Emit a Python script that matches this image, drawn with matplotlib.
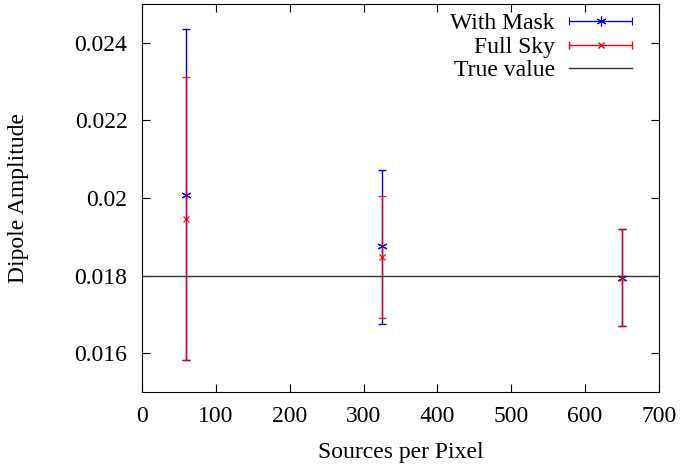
import matplotlib
matplotlib.use("Agg")
import matplotlib.pyplot as plt
from matplotlib.lines import Line2D
from matplotlib.legend_handler import HandlerErrorbar

plt.rcParams['font.family'] = ['Liberation Serif', 'DejaVu Serif']

# data
sources = [60, 325, 650]
mask_amp = [0.02008, 0.01875, 0.01795]
mask_lo = [0.01582, 0.01674, 0.01669]
mask_hi = [0.02436, 0.02071, 0.01919]
full_amp = [0.01946, 0.01847, 0.01795]
full_lo = [0.01582, 0.01690, 0.01669]
full_hi = [0.02312, 0.02004, 0.01919]
true_value = 0.018

fig = plt.figure(figsize=(6.82, 4.65), dpi=100)
ax = fig.add_axes([0.2082, 0.157, 0.758, 0.8344])

mask_err = [[a - l for a, l in zip(mask_amp, mask_lo)],
            [h - a for a, h in zip(mask_amp, mask_hi)]]
full_err = [[a - l for a, l in zip(full_amp, full_lo)],
            [h - a for a, h in zip(full_amp, full_hi)]]

ax.errorbar(sources, mask_amp, yerr=mask_err, fmt='none', ecolor='#0000ff',
            elinewidth=1, capsize=3, capthick=1)
ax.plot(sources, mask_amp, ls='none', marker=(6, 2, 0), ms=7, mew=0.8,
        color='#0000ff')
ax.errorbar(sources, full_amp, yerr=full_err, fmt='none', ecolor='#ff0000',
            elinewidth=1, capsize=3, capthick=1, alpha=0.85)
ax.plot(sources, full_amp, ls='none', marker='x', ms=5, mew=1,
        color='#ff0000', alpha=0.85)
ax.axhline(true_value, color='#333333', lw=1)

# legend handles drawn like gnuplot's (dummy points off the axes)
h1 = ax.errorbar([-1000], [0], xerr=[1], fmt='', ls='none', marker=(6, 2, 0),
                 color='#0000ff', ms=7, mew=0.8, elinewidth=1, capsize=3)
h2 = ax.errorbar([-1000], [0], xerr=[1], fmt='', ls='none', marker='x',
                 color='#ff0000', ms=5, mew=1, elinewidth=1, capsize=3)
h3 = Line2D([], [], color='#333333', lw=1)
ax.legend([h1, h2, h3], ['With Mask', 'Full Sky', 'True value'],
          loc='upper right', bbox_to_anchor=(0.948, 0.977), frameon=False,
          markerfirst=False, fontsize=17, handlelength=2.67,
          handletextpad=0.6, labelspacing=0.08, borderaxespad=0,
          borderpad=0, handler_map={h1: HandlerErrorbar(xerr_size=1.32),
                                    h2: HandlerErrorbar(xerr_size=1.32)})

ax.set_xlim(0, 700)
ax.set_ylim(0.015, 0.025)
ax.set_xticks(range(0, 701, 100))
ax.set_yticks([0.016, 0.018, 0.02, 0.022, 0.024])
ax.set_yticklabels(['0.016', '0.018', '0.02', '0.022', '0.024'])
ax.tick_params(direction='in', top=True, right=True, labelsize=17, length=6)
ax.tick_params(axis='x', pad=10)
ax.tick_params(axis='y', pad=10.5)
ax.set_xlabel('Sources per Pixel', fontsize=17)
ax.set_ylabel('Dipole Amplitude', fontsize=17)
ax.xaxis.set_label_coords(0.5, -0.128)
ax.yaxis.set_label_coords(-0.218, 0.5)

fig.savefig('out.png', dpi=100)
